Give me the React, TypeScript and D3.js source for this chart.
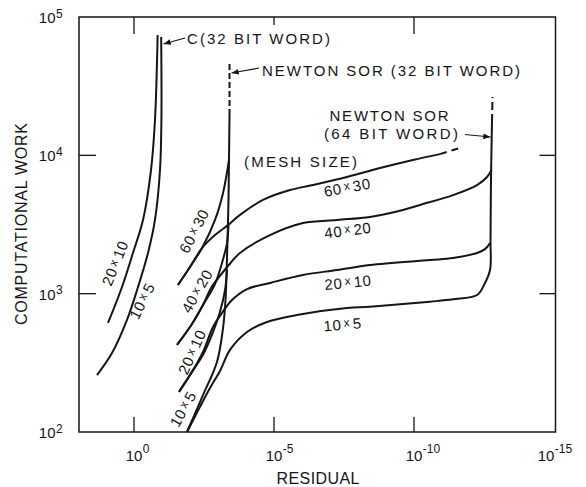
import React from "react";
import * as d3 from "d3";

const WIDTH = 586;
const HEIGHT = 487;

// ---- axis ticks ----
const xTickValues = [1e0, 1e-5, 1e-10, 1e-15];
const xTickExponents = ["0", "-5", "-10", "-15"];
const yTickValues = [1e2, 1e3, 1e4, 1e5];
const yTickExponents = ["2", "3", "4", "5"];
const innerXTicks = [1e0, 1e-5, 1e-10];
const innerYTicks = [1e3, 1e4];

// ---- C (32 bit word) ----
const c20x10Residual = [8.48, 2.68, 1.09, 0.477, 0.247, 0.178, 0.143];
const c20x10Work = [614, 1117, 1970, 3410, 7830, 18000, 74000];
const c10x5Residual = [20.9, 6.1, 1.78, 0.72, 0.316, 0.178, 0.118, 0.105, 0.107];
const c10x5Work = [258, 372, 646, 1117, 1970, 3410, 7830, 18000, 71600];

// ---- Newton SOR (64 bit word) ----
const n64_10x5Residual = [1.28e-2, 4.4e-3, 1.93e-3, 8.5e-4, 3.73e-4, 9.2e-5, 1.78e-5, 1.51e-6, 2.47e-8, 3.73e-9, 2.68e-11, 4.05e-12, 5.6e-13, 3.16e-13, 1.93e-13, 1.85e-13, 1.78e-13, 1.64e-13];
const n64_10x5Work = [100, 152, 208, 276, 392, 528, 624, 701, 787, 805, 875, 910, 978, 1156, 1483, 2440, 6640, 17400];
const n64_20x10Residual = [2.47e-2, 8.5e-3, 3.43e-3, 1.51e-3, 7.2e-4, 3.16e-4, 9.2e-5, 1.39e-5, 9.2e-7, 5.6e-8, 3.73e-9, 2.68e-11, 4.05e-12, 5.6e-13, 2.91e-13, 1.93e-13];
const n64_20x10Work = [195, 272, 379, 574, 725, 900, 1080, 1195, 1365, 1483, 1612, 1750, 1810, 1970, 2100, 2320];
const n64_40x20Residual = [2.91e-2, 8.5e-3, 3.43e-3, 1.78e-3, 8.5e-4, 4.4e-4, 1.64e-4, 1.39e-5, 9.2e-7, 5.6e-8, 3.73e-9, 2.47e-10, 6.1e-11, 4.05e-12, 5.6e-13, 2.47e-13, 1.71e-13];
const n64_40x20Work = [426, 604, 828, 1100, 1343, 1585, 1970, 2650, 3240, 3410, 3585, 4030, 4380, 5160, 6100, 6970, 7830];
const n64_60x30Residual = [2.7e-2, 1.0e-2, 3.7e-3, 1.28e-3, 4.4e-4, 1.64e-4, 2.47e-5, 2.68e-6, 4.05e-7, 2.47e-8, 1.64e-9, 1.09e-10, 1.18e-11];
const n64_60x30Work = [1156, 1560, 2140, 2650, 3130, 3710, 4760, 5610, 6100, 6970, 8090, 9250, 10200];
const n64_60x30DashResidual = [1.18e-11, 1.78e-12];
const n64_60x30DashWork = [10200, 11500];
const n64LimitDashResidual = [1.64e-13, 1.57e-13];
const n64LimitDashWork = [17400, 26400];

// ---- Newton SOR (32 bit word) ----
const n32_10x5Residual = [1.28e-2, 3.43e-3, 1.09e-3, 6.6e-4, 5.4e-4, 4.97e-4, 4.58e-4, 4.22e-4, 4.05e-4, 3.88e-4];
const n32_10x5Work = [100, 185, 321, 565, 900, 1365, 2440, 4760, 9250, 19600];
const n32_20x10Residual = [2.47e-2, 8.5e-3, 3.43e-3, 1.51e-3, 8.5e-4, 5.6e-4, 4.77e-4];
const n32_20x10Work = [195, 272, 361, 528, 736, 1064, 1483];
const n32_40x20Residual = [2.91e-2, 8.5e-3, 3.43e-3, 1.28e-3, 7.2e-4, 4.77e-4, 4.22e-4];
const n32_40x20Work = [426, 604, 828, 1175, 1667, 2320, 3130];
const n32_60x30Residual = [2.7e-2, 1.0e-2, 3.7e-3, 1.28e-3, 6.6e-4, 4.05e-4];
const n32_60x30Work = [1156, 1560, 2140, 3410, 5350, 9250];
const n32LimitDashResidual = [3.88e-4, 3.88e-4];
const n32LimitDashWork = [19600, 47300];

// ---- labels ----
const meshSizes = ["60x30", "40x20", "20x10", "10x5"];
const cMeshSizes = ["20x10", "10x5"];
const xTitle = "RESIDUAL";
const yTitle = "COMPUTATIONAL WORK";
const cLabel = "C(32 BIT WORD)";
const n32Label = "NEWTON SOR (32 BIT WORD)";
const n64Label1 = "NEWTON SOR";
const n64Label2 = "(64 BIT WORD)";
const meshLabel = "(MESH SIZE)";

const FONT = "'Liberation Sans', Arial, sans-serif";
const INK = "#151515";

type P = [number, number];
const zip = (r: number[], w: number[]): P[] => r.map((v, i) => [v, w[i]] as P);

function MeshText({ label, x, y, angle, anchor = "start", size = 15 }: { label: string; x: number; y: number; angle: number; anchor?: string; size?: number }) {
  const [a, b] = label.split("x");
  const baseY = anchor === "middle" ? size * 0.36 : 0;
  return (
    <text
      transform={`translate(${x},${y}) rotate(${angle})`}
      y={baseY}
      textAnchor={anchor}
      fontFamily={FONT}
      fontSize={size}
      fill={INK}
      letterSpacing={0.6}
    >
      <tspan>{a}</tspan>
      <tspan dx={2.5} dy={-3} fontSize={size * 0.78}>x</tspan>
      <tspan dx={2.5} dy={3}>{b}</tspan>
    </text>
  );
}

export default function App() {
  const x = d3.scaleLog().domain([1e2, 1e-15]).range([78, 554]);
  const y = d3.scaleLog().domain([1e2, 1e5]).range([432, 17]);
  const line = d3
    .line<P>()
    .x((d) => x(d[0]))
    .y((d) => y(d[1]))
    .curve(d3.curveCatmullRom.alpha(0.5));

  const solidCurves: P[][] = [
    zip(c20x10Residual, c20x10Work),
    zip(c10x5Residual, c10x5Work),
    zip(n64_10x5Residual, n64_10x5Work),
    zip(n64_20x10Residual, n64_20x10Work),
    zip(n64_40x20Residual, n64_40x20Work),
    zip(n64_60x30Residual, n64_60x30Work),
    zip(n32_10x5Residual, n32_10x5Work),
    zip(n32_20x10Residual, n32_20x10Work),
    zip(n32_40x20Residual, n32_40x20Work),
    zip(n32_60x30Residual, n32_60x30Work),
  ];
  const dashedCurves: { pts: P[]; dash: string }[] = [
    { pts: zip(n64_60x30DashResidual, n64_60x30DashWork), dash: "7,5" },
    { pts: zip(n64LimitDashResidual, n64LimitDashWork), dash: "8,4" },
    { pts: zip(n32LimitDashResidual, n32LimitDashWork), dash: "6,3" },
  ];

  const left = x(1e2) + 1;
  const right = x(1e-15) + 1.5;
  const top = y(1e5);
  const bottom = y(1e2);

  // label placements (pixel layout)
  const steepMeshPos = [
    { cx: 194, cy: 231, a: -63 },
    { cx: 197, cy: 291, a: -60 },
    { cx: 192, cy: 352, a: -66 },
    { cx: 183, cy: 409, a: -61 },
  ];
  const flatMeshPos = [
    { x: 325, y: 197, a: -10.5 },
    { x: 325, y: 238.5, a: -7 },
    { x: 325, y: 290, a: -5.5 },
    { x: 324, y: 331.5, a: -5 },
  ];
  const cMeshPos = [
    { cx: 115, cy: 263, a: -68 },
    { cx: 142, cy: 301, a: -63.5 },
  ];

  return (
    <svg
      width={WIDTH}
      height={HEIGHT}
      viewBox={`0 0 ${WIDTH} ${HEIGHT}`}
      style={{ position: "absolute", left: 0, top: 0, background: "#fff" }}
    >
      <defs>
        <marker id="ah" viewBox="0 0 10 10" refX="10" refY="5" markerWidth="6" markerHeight="6" orient="auto">
          <path d="M0,1 L10,5 L0,9 z" fill={INK} />
        </marker>
      </defs>
      <rect x={0} y={0} width={WIDTH} height={HEIGHT} fill="#fff" />

      {/* frame */}
      <rect x={left} y={top} width={right - left} height={bottom - top} fill="none" stroke={INK} strokeWidth={1.5} />

      {/* ticks */}
      {innerYTicks.map((v) => (
        <g key={"yt" + v}>
          <line x1={left} x2={left + 17} y1={y(v)} y2={y(v)} stroke={INK} strokeWidth={1.3} />
          <line x1={right - 16} x2={right} y1={y(v)} y2={y(v)} stroke={INK} strokeWidth={1.3} />
        </g>
      ))}
      {innerXTicks.map((v, i) => (
        <g key={"xt" + v}>
          <line x1={x(v)} x2={x(v)} y1={bottom} y2={bottom - 15} stroke={INK} strokeWidth={1.3} />
          <line x1={x(v)} x2={x(v)} y1={top} y2={top + (i === 1 ? 8 : 17)} stroke={INK} strokeWidth={1.3} />
        </g>
      ))}

      {/* tick labels */}
      {yTickValues.map((v, i) => (
        <g key={"yl" + v} fontFamily={FONT} fill={INK}>
          <text x={55.5} y={y(v) + 6} textAnchor="end" fontSize={15}>10</text>
          <text x={56} y={y(v) + 0.5} fontSize={12}>{yTickExponents[i]}</text>
        </g>
      ))}
      {xTickValues.map((v, i) => {
        const cx = x(v) + (i === xTickValues.length - 1 ? -8 : 0);
        return (
          <g key={"xl" + v} fontFamily={FONT} fill={INK}>
            <text x={cx} y={461} textAnchor="middle" fontSize={15}>10</text>
            <text x={cx + 8.8} y={453} fontSize={12}>{xTickExponents[i]}</text>
          </g>
        );
      })}

      {/* axis titles */}
      <text x={318} y={484} textAnchor="middle" fontFamily={FONT} fontSize={16} fill={INK} textLength={83} lengthAdjust="spacing">
        {xTitle}
      </text>
      <text
        transform="translate(26.5,224) rotate(-90)"
        textAnchor="middle"
        fontFamily={FONT}
        fontSize={16}
        fill={INK}
        textLength={202}
        lengthAdjust="spacing"
      >
        {yTitle}
      </text>

      {/* curves */}
      {solidCurves.map((pts, i) => (
        <path key={"c" + i} d={line(pts) || ""} fill="none" stroke={INK} strokeWidth={2} strokeLinejoin="round" />
      ))}
      {dashedCurves.map((c, i) => (
        <path key={"d" + i} d={line(c.pts) || ""} fill="none" stroke={INK} strokeWidth={2} strokeDasharray={c.dash} />
      ))}

      {/* annotations */}
      <g fontFamily={FONT} fontSize={15} fill={INK}>
        <text x={187} y={43.5} textLength={143} lengthAdjust="spacing">{cLabel}</text>
        <text x={262} y={76} textLength={258} lengthAdjust="spacing">{n32Label}</text>
        <text x={329.5} y={120.5} textLength={119} lengthAdjust="spacing">{n64Label1}</text>
        <text x={324} y={138.5} textLength={134} lengthAdjust="spacing">{n64Label2}</text>
        <text x={244} y={166.5} textLength={113} lengthAdjust="spacing">{meshLabel}</text>
      </g>
      <line x1={185} y1={38} x2={163.5} y2={44} stroke={INK} strokeWidth={1.2} markerEnd="url(#ah)" />
      <line x1={259} y1={68} x2={231.5} y2={73} stroke={INK} strokeWidth={1.2} markerEnd="url(#ah)" />
      <line x1={465} y1={134.5} x2={490.5} y2={137} stroke={INK} strokeWidth={1.2} markerEnd="url(#ah)" />

      {/* mesh size labels */}
      {meshSizes.map((m, i) => (
        <MeshText key={"s" + m} label={m} x={steepMeshPos[i].cx} y={steepMeshPos[i].cy} angle={steepMeshPos[i].a} anchor="middle" />
      ))}
      {meshSizes.map((m, i) => (
        <MeshText key={"f" + m} label={m} x={flatMeshPos[i].x} y={flatMeshPos[i].y} angle={flatMeshPos[i].a} />
      ))}
      {cMeshSizes.map((m, i) => (
        <MeshText key={"cm" + m} label={m} x={cMeshPos[i].cx} y={cMeshPos[i].cy} angle={cMeshPos[i].a} anchor="middle" />
      ))}
    </svg>
  );
}
